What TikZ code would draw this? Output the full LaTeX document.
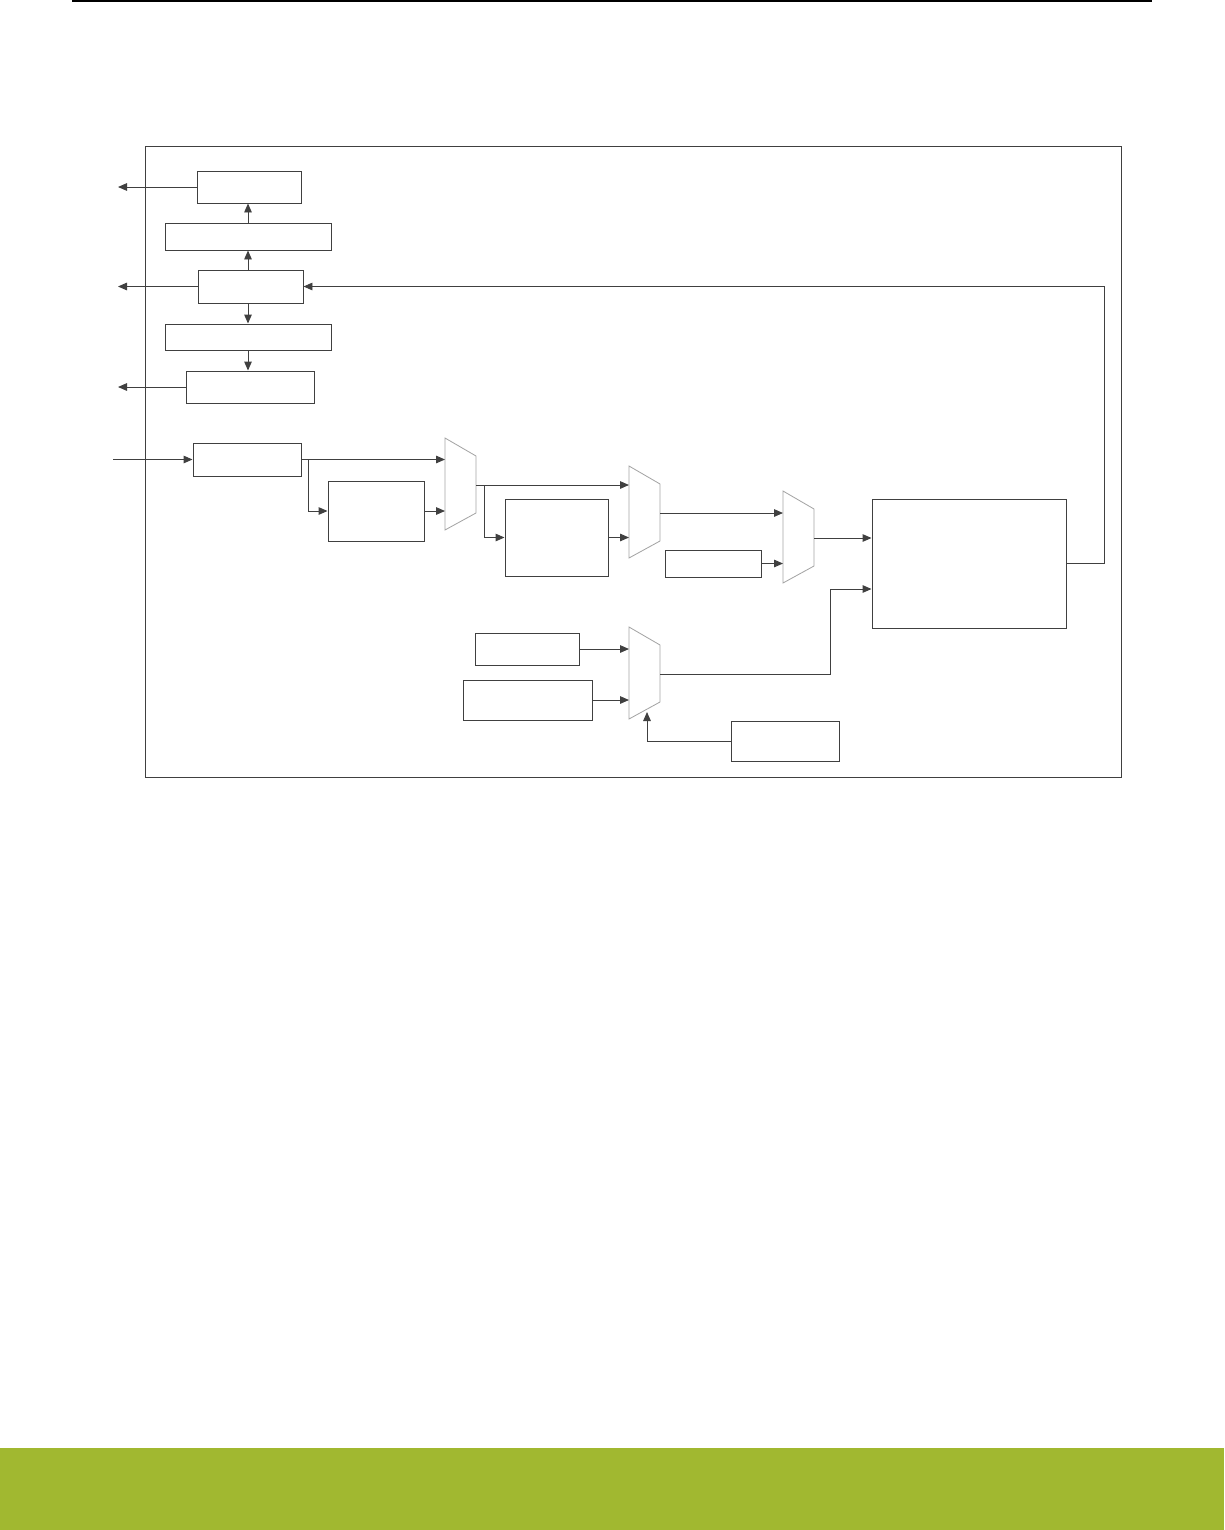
\documentclass[tikz,border=0pt]{standalone}
\usepackage{tikz}
\usepackage{xcolor}
\usetikzlibrary{arrows.meta}

\definecolor{lineclr}{RGB}{64,64,64}
\definecolor{muxclr}{RGB}{165,165,165}
\definecolor{bandgreen}{RGB}{161,184,48}

% multiplexer: top-left corner at (#2,#3)
\newcommand{\mux}[3]{%
  \draw[muxline] (#2,#3) -- ++(31,18) -- ++(0,57) -- ++(-31,17) -- cycle;
  \coordinate (#1w) at (#2,#3+47);
  \coordinate (#1e) at (#2+31,#3+47);
  \coordinate (#1s) at (#2+18,#3+85);
}

\begin{document}
\begin{tikzpicture}[x=0.05cm,y=-0.05cm,
  blk/.style={draw=lineclr,line width=1.4pt,inner sep=0pt,fill=white},
  arr/.style={draw=lineclr,line width=1.4pt,-{Triangle[length=0.45cm,width=0.38cm]}},
  plain/.style={draw=lineclr,line width=1.4pt},
  muxline/.style={draw=muxclr,line width=1.2pt}]
\useasboundingbox (0,0) rectangle (1224,1530);

% page decoration
\draw[line width=1.6pt] (72,1) -- (1152,1);
\fill[bandgreen] (0,1448) rectangle (1224,1530);

% outer frame
\draw[plain] (145,146) rectangle (1121,777);

% left column
\node[blk,minimum width=5.2cm,minimum height=1.6cm] (B1) at (249,187) {};
\node[blk,minimum width=8.3cm,minimum height=1.35cm] (B2) at (248,236.5) {};
\node[blk,minimum width=5.25cm,minimum height=1.65cm] (B3) at (250.5,286.5) {};
\node[blk,minimum width=8.3cm,minimum height=1.3cm] (B4) at (248,337) {};
\node[blk,minimum width=6.4cm,minimum height=1.6cm] (B5) at (250,387) {};

\coordinate (o1) at (118,187);
\coordinate (o2) at (118,286.5);
\coordinate (o3) at (118,387);
\draw[arr] (B1.west) -- (o1);
\draw[arr] (B3.west) -- (o2);
\draw[arr] (B5.west) -- (o3);

\draw[arr] (B2.north) -- (B2.north |- B1.south);
\draw[arr] (B3.north -| B2.south) -- (B2.south);
\draw[arr] (B3.south -| B4.north) -- (B4.north);
\draw[arr] (B4.south) -- (B4.south |- B5.north);

% data path
\node[blk,minimum width=5.4cm,minimum height=1.65cm] (I) at (247,459.5) {};
\node[blk,minimum width=4.8cm,minimum height=3.0cm] (D) at (376,511) {};
\node[blk,minimum width=5.15cm,minimum height=3.85cm] (E) at (556.5,537.5) {};
\node[blk,minimum width=4.8cm,minimum height=1.35cm] (F) at (713,563.5) {};
\node[blk,minimum width=9.7cm,minimum height=6.45cm] (K) at (969,563.5) {};
\node[blk,minimum width=5.2cm,minimum height=1.6cm] (G) at (527,649) {};
\node[blk,minimum width=6.45cm,minimum height=2.0cm] (H) at (527.5,700) {};
\node[blk,minimum width=5.4cm,minimum height=2.0cm] (J) at (785,741) {};

\mux{m1}{445}{438}
\mux{m2}{629}{466}
\mux{m3}{783}{491}
\mux{m4}{629}{627}

\coordinate (inp) at (113,459.5);
\draw[arr] (inp) -- (I.west);
\draw[arr] (I.east) -- (I.east -| m1w);
\draw[arr] ([xshift=0.35cm]I.east) |- (D.west);
\draw[arr] (D.east) -- (D.east -| m1w);

\draw[arr] (m1e) -- (m1e -| m2w);
\draw[arr] ([xshift=0.4cm]m1e) |- (E.west);
\draw[arr] (E.east) -- (E.east -| m2w);

\draw[arr] (m2e) -- (m2e -| m3w);
\draw[arr] (F.east) -- (F.east -| m3w);
\draw[arr] (m3e) -- (m3e -| K.west);

\draw[arr] (G.east) -- (G.east -| m4w);
\draw[arr] (H.east) -- (H.east -| m4w);
\draw[arr] (J.west) -| (m4s);

\coordinate (kin2) at ([yshift=-1.275cm]K.west);
\draw[arr] (m4e) -| ([xshift=-2.05cm]kin2) -- (kin2);

% feedback
\draw[arr] (K.east) -- ++(38,0) |- (B3.east);
\end{tikzpicture}
\end{document}
